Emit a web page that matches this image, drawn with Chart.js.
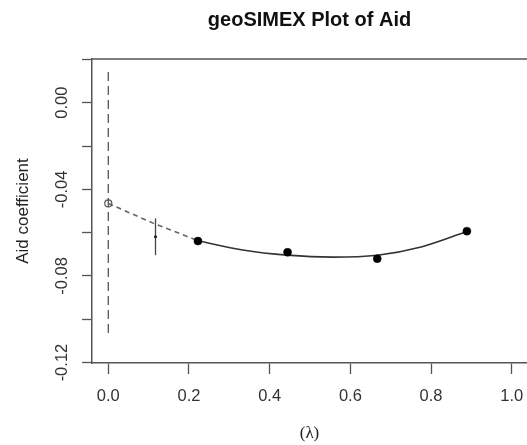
<!DOCTYPE html>
<html><head><meta charset="utf-8">
<script src="https://cdn.jsdelivr.net/npm/chart.js@4/dist/chart.umd.min.js"></script>
<style>html,body{margin:0;padding:0;background:#fff}#wrap{width:527px;height:445px}</style>
</head><body><div id="wrap"><canvas id="c" width="527" height="445"></canvas></div>
<script>
// SIMEX simulated estimates (filled points)
const simexLambda = [0.2222, 0.4444, 0.6667, 0.8889];
const simexAid = [-0.0639, -0.0691, -0.0720, -0.0593];
// fitted extrapolation curve (solid part)
const fitLambda = [0.222, 0.333, 0.444, 0.556, 0.667, 0.778, 0.889];
const fitAid = [-0.0637, -0.0680, -0.0704, -0.0713, -0.0704, -0.0665, -0.0595];
// extrapolated (dashed) part
const extrapLambda = [0, 0.111, 0.222];
const extrapAid = [-0.0465, -0.0556, -0.0637];
// SIMEX estimate at lambda = 0 (open circle)
const estLambda = [0];
const estAid = [-0.0465];
// confidence interval at lambda = 0 (dashed vertical)
const ciLambda = [0, 0];
const ciAid = [-0.1063, 0.0157];
// naive estimate with error bar
const naiveLambda = [0.117];
const naiveAid = [-0.0619];
const naiveLow = [-0.0704];
const naiveHigh = [-0.0534];
// ticks
const xTickValues = [0, 0.2, 0.4, 0.6, 0.8, 1.0];
const xTickLabels = ['0.0', '0.2', '0.4', '0.6', '0.8', '1.0'];
const yTickValues = [-0.12, -0.10, -0.08, -0.06, -0.04, -0.02, 0.00, 0.02];
const yTickLabels = ['-0.12', '', '-0.08', '', '-0.04', '', '0.00', ''];

const zip = (xs, ys) => xs.map((x, i) => ({x: x, y: ys[i]}));
const FONT = "'Liberation Sans', Arial, Helvetica, sans-serif";
const AX = '#555';

const framePlugin = {
  id: 'frameTop',
  afterDraw(chart) {
    const {ctx, chartArea: a} = chart;
    ctx.save();
    ctx.strokeStyle = AX;
    ctx.lineWidth = 1.5;
    ctx.beginPath();
    ctx.moveTo(a.left - 0.75, a.top);
    ctx.lineTo(a.right + 5, a.top);
    ctx.stroke();
    ctx.restore();
  }
};

new Chart(document.getElementById('c'), {
  type: 'scatter',
  data: {
    datasets: [
      {data: zip(simexLambda, simexAid), pointRadius: 4, pointHoverRadius: 4, pointBackgroundColor: '#000', pointBorderColor: '#000', pointBorderWidth: 0.5, showLine: false},
      {data: zip(estLambda, estAid), pointRadius: 3.5, pointHoverRadius: 3.5, pointBackgroundColor: 'rgba(0,0,0,0)', pointBorderColor: '#555', pointBorderWidth: 1.2, showLine: false},
      {data: zip(naiveLambda, naiveAid), pointRadius: 1.6, pointHoverRadius: 1.6, pointBackgroundColor: '#222', pointBorderColor: '#222', pointBorderWidth: 0, showLine: false},
      {data: zip([naiveLambda[0], naiveLambda[0]], [naiveLow[0], naiveHigh[0]]), showLine: true, borderColor: '#444', borderWidth: 1.3, pointRadius: 0, pointHoverRadius: 0},
      {data: zip(fitLambda, fitAid), showLine: true, borderColor: '#333', borderWidth: 1.6, pointRadius: 0, pointHoverRadius: 0, cubicInterpolationMode: 'monotone'},
      {data: zip(extrapLambda, extrapAid), showLine: true, borderColor: '#666', borderWidth: 1.6, borderDash: [5, 4], pointRadius: 0, pointHoverRadius: 0},
      {data: zip(ciLambda, ciAid), showLine: true, borderColor: '#555', borderWidth: 1.3, borderDash: [9, 5], pointRadius: 0, pointHoverRadius: 0}
    ]
  },
  options: {
    responsive: false,
    devicePixelRatio: 1,
    animation: false,
    layout: {padding: 0, autoPadding: false},
    plugins: {
      legend: {display: false},
      tooltip: {enabled: false},
      title: {
        display: true, text: 'geoSIMEX Plot of Aid', fullSize: false,
        font: {family: FONT, size: 20, weight: 'bold'}, color: '#111',
        padding: {top: 8, bottom: 27}
      }
    },
    scales: {
      x: {
        type: 'linear', position: 'bottom', min: -0.0404, max: 1.0379,
        afterBuildTicks: s => { s.ticks = xTickValues.map(v => ({value: v})); },
        ticks: {callback: (v, i) => xTickLabels[i], padding: 13, autoSkip: false, maxRotation: 0,
                font: {family: FONT, size: 16.5}, color: '#333'},
        grid: {display: true, drawOnChartArea: false, drawTicks: true, tickLength: 11, tickColor: AX, tickWidth: 1.3},
        border: {display: true, color: AX, width: 1.5},
        title: {display: true, text: '(λ)', font: {family: "'Liberation Serif', 'DejaVu Serif', serif", size: 17},
                color: '#222', padding: {top: 0, bottom: 1}},
        afterFit: s => { s.height = 82; s.paddingLeft = 0; s.paddingRight = 0; }
      },
      y: {
        type: 'linear', position: 'left', min: -0.1202, max: 0.0202,
        afterBuildTicks: s => { s.ticks = yTickValues.map(v => ({value: v})); },
        ticks: {callback: (v, i) => yTickLabels[i], padding: 1, autoSkip: false,
                minRotation: 90, maxRotation: 90, crossAlign: 'center',
                font: {family: FONT, size: 16.5}, color: '#333'},
        grid: {display: true, drawOnChartArea: false, drawTicks: true, tickLength: 10, tickColor: AX, tickWidth: 1.3},
        border: {display: true, color: AX, width: 1.5},
        title: {display: true, text: 'Aid coefficient', font: {family: FONT, size: 17}, color: '#222',
                padding: {top: 13, bottom: 0}},
        afterFit: s => { s.width = 92; s.paddingTop = 0; s.paddingBottom = 0; }
      }
    }
  },
  plugins: [framePlugin]
});
</script>
</body></html>
